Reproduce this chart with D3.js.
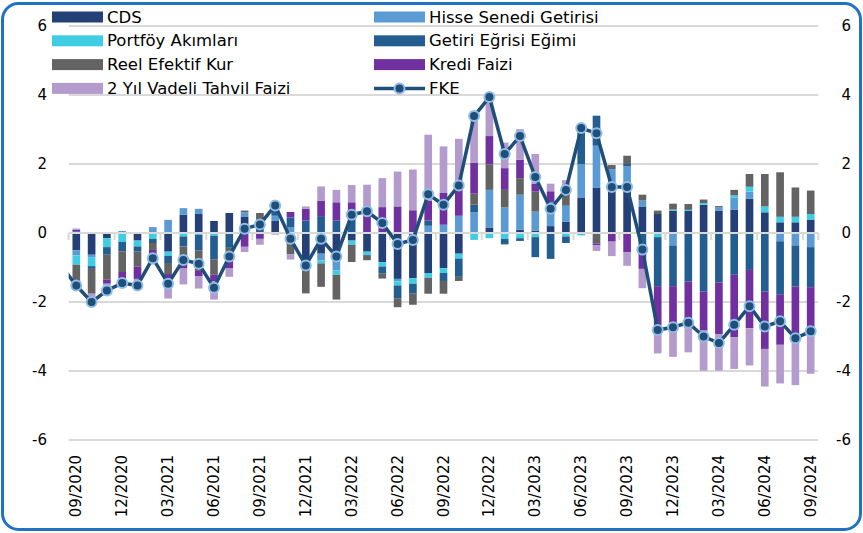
<!DOCTYPE html>
<html><head><meta charset="utf-8">
<script src="https://cdn.jsdelivr.net/npm/d3@7"></script>
<style>body{margin:0;background:#fff}svg{display:block}text{font-family:"DejaVu Sans",Verdana,sans-serif;fill:#000}</style>
</head><body><svg id="c" width="863" height="533"></svg>
<script>
// ---------- DATA ----------
const months = ["09/2020","10/2020","11/2020","12/2020","01/2021","02/2021","03/2021","04/2021","05/2021","06/2021","07/2021","08/2021","09/2021","10/2021","11/2021","12/2021","01/2022","02/2022","03/2022","04/2022","05/2022","06/2022","07/2022","08/2022","09/2022","10/2022","11/2022","12/2022","01/2023","02/2023","03/2023","04/2023","05/2023","06/2023","07/2023","08/2023","09/2023","10/2023","11/2023","12/2023","01/2024","02/2024","03/2024","04/2024","05/2024","06/2024","07/2024","08/2024","09/2024"];
const xTickLabels = ["09/2020","12/2020","03/2021","06/2021","09/2021","12/2021","03/2022","06/2022","09/2022","12/2022","03/2023","06/2023","09/2023","12/2023","03/2024","06/2024","09/2024"];
const yTicks = [-6,-4,-2,0,2,4,6];

const cds = [-0.50,-0.63,-0.15,0,-0.22,0,-0.54,0.53,0.55,0.35,0.58,0.48,0,0.35,0,-1.09,-0.60,-0.56,-0.22,-0.54,-0.85,-1.33,-1.31,-1.16,-1.02,-0.60,0,0.16,0,0.10,0.07,0.20,0.33,1.03,1.32,1.32,1.32,0.77,0.55,0.65,0.64,0.82,0.65,0.68,0.99,0.60,0.31,0.31,0.39];
const hisse = [-0.15,-0.07,0,0.06,0,0.17,0.38,0.19,0.15,0,0,0.12,0,0.15,0.16,0,-0.20,-0.53,0,0,0,-0.07,0,0.21,0.24,0.50,0.60,1.09,0.74,1.01,0.55,0.70,0.46,0.97,1.21,0.53,0.61,0.17,0,-0.36,0,0,0.10,0.34,0.21,0,-0.24,-0.36,-0.41];
const portfoy = [-0.27,-0.26,-0.26,-0.26,-0.17,-0.17,-0.12,-0.10,-0.05,-0.08,0,0,0,0,0,0,-0.08,-0.12,-0.12,-0.10,-0.12,-0.12,-0.16,-0.14,-0.14,-0.14,-0.20,-0.15,-0.17,-0.15,-0.12,0,-0.10,-0.07,0,0,0,0,-0.12,0.03,0.03,0.05,0,0.07,0.14,0.17,0.16,0.16,0.16];
const getiri = [0.05,-0.08,-0.22,-0.27,-0.15,-0.12,-0.21,-0.29,-0.45,-0.68,-0.43,0,0.38,0.15,0.29,0.36,0.49,0.36,0.45,0,-0.21,-0.37,-0.29,0.15,-0.23,-0.53,0.22,0,-0.16,-0.08,-0.58,-0.75,-0.19,1.08,0.87,0,0.07,-0.56,-1.42,-1.18,-1.41,-1.70,-1.43,-1.21,-1.07,-1.70,-1.55,-1.19,-1.16];
const reel = [-0.65,-0.72,-0.72,-0.60,-0.43,-0.20,-0.32,-0.48,-0.60,-0.45,-0.41,0.05,0.20,0.18,-0.62,-0.66,-0.68,-0.72,-0.50,-0.15,-0.14,-0.26,-0.32,-0.46,-0.37,-0.12,0.32,0.74,0.51,0.48,0.58,0,0.60,0,-0.31,0.12,0.24,0.17,0.10,0.17,0.17,0.10,0.03,0.16,0.37,0.94,1.29,0.85,0.68];
const kredi = [0.05,0,-0.12,-0.19,-0.36,-0.12,-0.15,-0.16,-0.16,-0.19,-0.19,-0.40,-0.17,0,0.16,0.34,0.45,0.53,0.44,0.77,0.75,0.77,0.66,0.58,0.92,0.85,0.89,0.82,0.63,0.53,0.22,0.31,0,0,-0.05,-0.25,-0.56,-0.48,-1.15,-1.33,-1.35,-1.13,-1.50,-1.81,-1.69,-1.66,-1.45,-1.57,-1.40];
const tahvil2y = [0.03,-0.20,-0.18,-0.18,-0.20,-0.30,-0.56,-0.46,-0.35,-0.53,-0.24,-0.15,-0.17,-0.05,-0.15,0.07,0.41,0.36,0.50,0.63,0.84,1.01,1.18,1.91,1.35,1.38,1.50,1.20,0.74,0.89,0.87,0.22,0.14,0,-0.16,-0.42,-0.39,-0.56,-0.80,-0.72,-0.70,-1.16,-1.06,-0.92,-1.08,-1.09,-1.12,-1.29,-1.11];
const fke = [-1.52,-2.00,-1.67,-1.45,-1.52,-0.73,-1.47,-0.78,-0.89,-1.59,-0.68,0.12,0.25,0.80,-0.17,-0.94,-0.17,-0.68,0.53,0.63,0.29,-0.32,-0.20,1.12,0.82,1.38,3.39,3.94,2.29,2.81,1.62,0.70,1.25,3.04,2.89,1.33,1.33,-0.48,-2.81,-2.73,-2.60,-3.00,-3.19,-2.66,-2.12,-2.71,-2.56,-3.05,-2.85];
const fkeLead = {month:"08/2020", value:-0.94}; // previous month, clipped at plot edge

const seriesNames = ["CDS","Hisse Senedi Getirisi","Portföy Akımları","Getiri Eğrisi Eğimi","Reel Efektif Kur","Kredi Faizi","2 Yıl Vadeli Tahvil Faizi"];
const seriesValues = [cds,hisse,portfoy,getiri,reel,kredi,tahvil2y];
const seriesColors = ["#253f77","#5b9bd5","#3fcde4","#245e91","#636363","#7030a0","#b39ccd"];
const lineName = "FKE";

// ---------- BUILD ----------
const svg = d3.select("#c");
const W = 863, H = 533;
const plot = {left:68.65, right:818.35, top:26, bottom:440};

const x = d3.scaleBand().domain(months).range([plot.left, plot.right]).paddingInner(0.5).paddingOuter(0.25);
const y = d3.scaleLinear().domain([-6,6]).range([plot.bottom, plot.top]);
const step = x.step();
const cx = m => x(m) + x.bandwidth()/2;

// border
svg.append("rect").attr("x",2.5).attr("y",3.5).attr("width",W-5).attr("height",H-7)
  .attr("rx",16).attr("fill","#fff").attr("stroke","#1f72c4").attr("stroke-width",3);

// gridlines
svg.append("g").selectAll("line").data(yTicks.filter(d=>d!==0)).join("line")
  .attr("x1",plot.left).attr("x2",plot.right).attr("y1",d=>y(d)).attr("y2",d=>y(d))
  .attr("stroke","#d9d9d9").attr("stroke-width",1.8);

// stacked bars
const table = months.map((m,i)=>{const o={month:m}; seriesNames.forEach((s,k)=>o[s]=seriesValues[k][i]); return o;});
const stack = d3.stack().keys(seriesNames).offset(d3.stackOffsetDiverging)(table);
svg.append("g").selectAll("g").data(stack).join("g")
  .attr("fill",(d,i)=>seriesColors[i])
  .selectAll("rect").data(d=>d).join("rect")
  .attr("x",d=>x(d.data.month)).attr("width",x.bandwidth())
  .attr("y",d=>y(Math.max(d[0],d[1]))).attr("height",d=>Math.abs(y(d[0])-y(d[1])));

// zero axis with ticks
const ax = svg.append("g");
ax.append("line").attr("x1",plot.left).attr("x2",plot.right).attr("y1",y(0)).attr("y2",y(0))
  .attr("stroke","#d9d9d9").attr("stroke-width",2);
const tickPos = months.filter((m,i)=>i%3===0).map(m=>x(m)-step*0.25).concat([plot.right]);
ax.selectAll("line.t").data(tickPos).join("line").attr("class","t")
  .attr("x1",d=>d).attr("x2",d=>d).attr("y1",y(0)).attr("y2",y(0)+7)
  .attr("stroke","#d9d9d9").attr("stroke-width",2);

// FKE line
svg.append("clipPath").attr("id","pc").append("rect")
  .attr("x",plot.left).attr("y",0).attr("width",plot.right-plot.left).attr("height",H);
const linePts = [{xv:cx(months[0])-step, v:fkeLead.value}].concat(months.map((m,i)=>({xv:cx(m), v:fke[i]})));
const lineGen = d3.line().x(d=>d.xv).y(d=>y(d.v));
const lg = svg.append("g").attr("clip-path","url(#pc)");
lg.append("path").datum(linePts).attr("d",lineGen).attr("fill","none")
  .attr("stroke","#1f4e79").attr("stroke-width",3.5).attr("stroke-linejoin","round");
lg.selectAll("circle").data(months.map((m,i)=>({xv:cx(m), v:fke[i]}))).join("circle")
  .attr("cx",d=>d.xv).attr("cy",d=>y(d.v)).attr("r",5)
  .attr("fill","#1f4e79").attr("stroke","#8fbde8").attr("stroke-width",2);

// y labels both sides
svg.append("g").selectAll("text").data(yTicks).join("text")
  .attr("x",47).attr("y",d=>y(d)).attr("text-anchor","end").attr("dominant-baseline","central")
  .attr("font-size",15).text(d=>d);
svg.append("g").selectAll("text").data(yTicks).join("text")
  .attr("x",851).attr("y",d=>y(d)).attr("text-anchor","end").attr("dominant-baseline","central")
  .attr("font-size",15).text(d=>d);

// x labels
svg.append("g").selectAll("text").data(xTickLabels).join("text")
  .attr("transform",d=>`translate(${cx(d)},455) rotate(-90)`)
  .attr("text-anchor","end").attr("dominant-baseline","central")
  .attr("font-size",15).text(d=>d);

// legend
const legItems = seriesNames.map((s,i)=>({name:s,color:seriesColors[i],type:"bar"})).concat([{name:lineName,type:"line"}]);
const lgd = svg.append("g");
legItems.forEach((it,i)=>{
  const col=i%2, row=Math.floor(i/2);
  const sx = col===0?52:374, ty = 17 + row*23.8;
  if(it.type==="bar"){
    lgd.append("rect").attr("x",sx).attr("y",ty-5.5).attr("width",51).attr("height",11).attr("fill",it.color);
  } else {
    lgd.append("line").attr("x1",sx).attr("x2",sx+51).attr("y1",ty).attr("y2",ty).attr("stroke","#1f4e79").attr("stroke-width",3.5);
    lgd.append("circle").attr("cx",sx+25.5).attr("cy",ty).attr("r",5).attr("fill","#1f4e79").attr("stroke","#8fbde8").attr("stroke-width",2);
  }
  lgd.append("text").attr("x",sx+55).attr("y",ty).attr("dominant-baseline","central").attr("font-size",16.5).text(it.name);
});
</script></body></html>
